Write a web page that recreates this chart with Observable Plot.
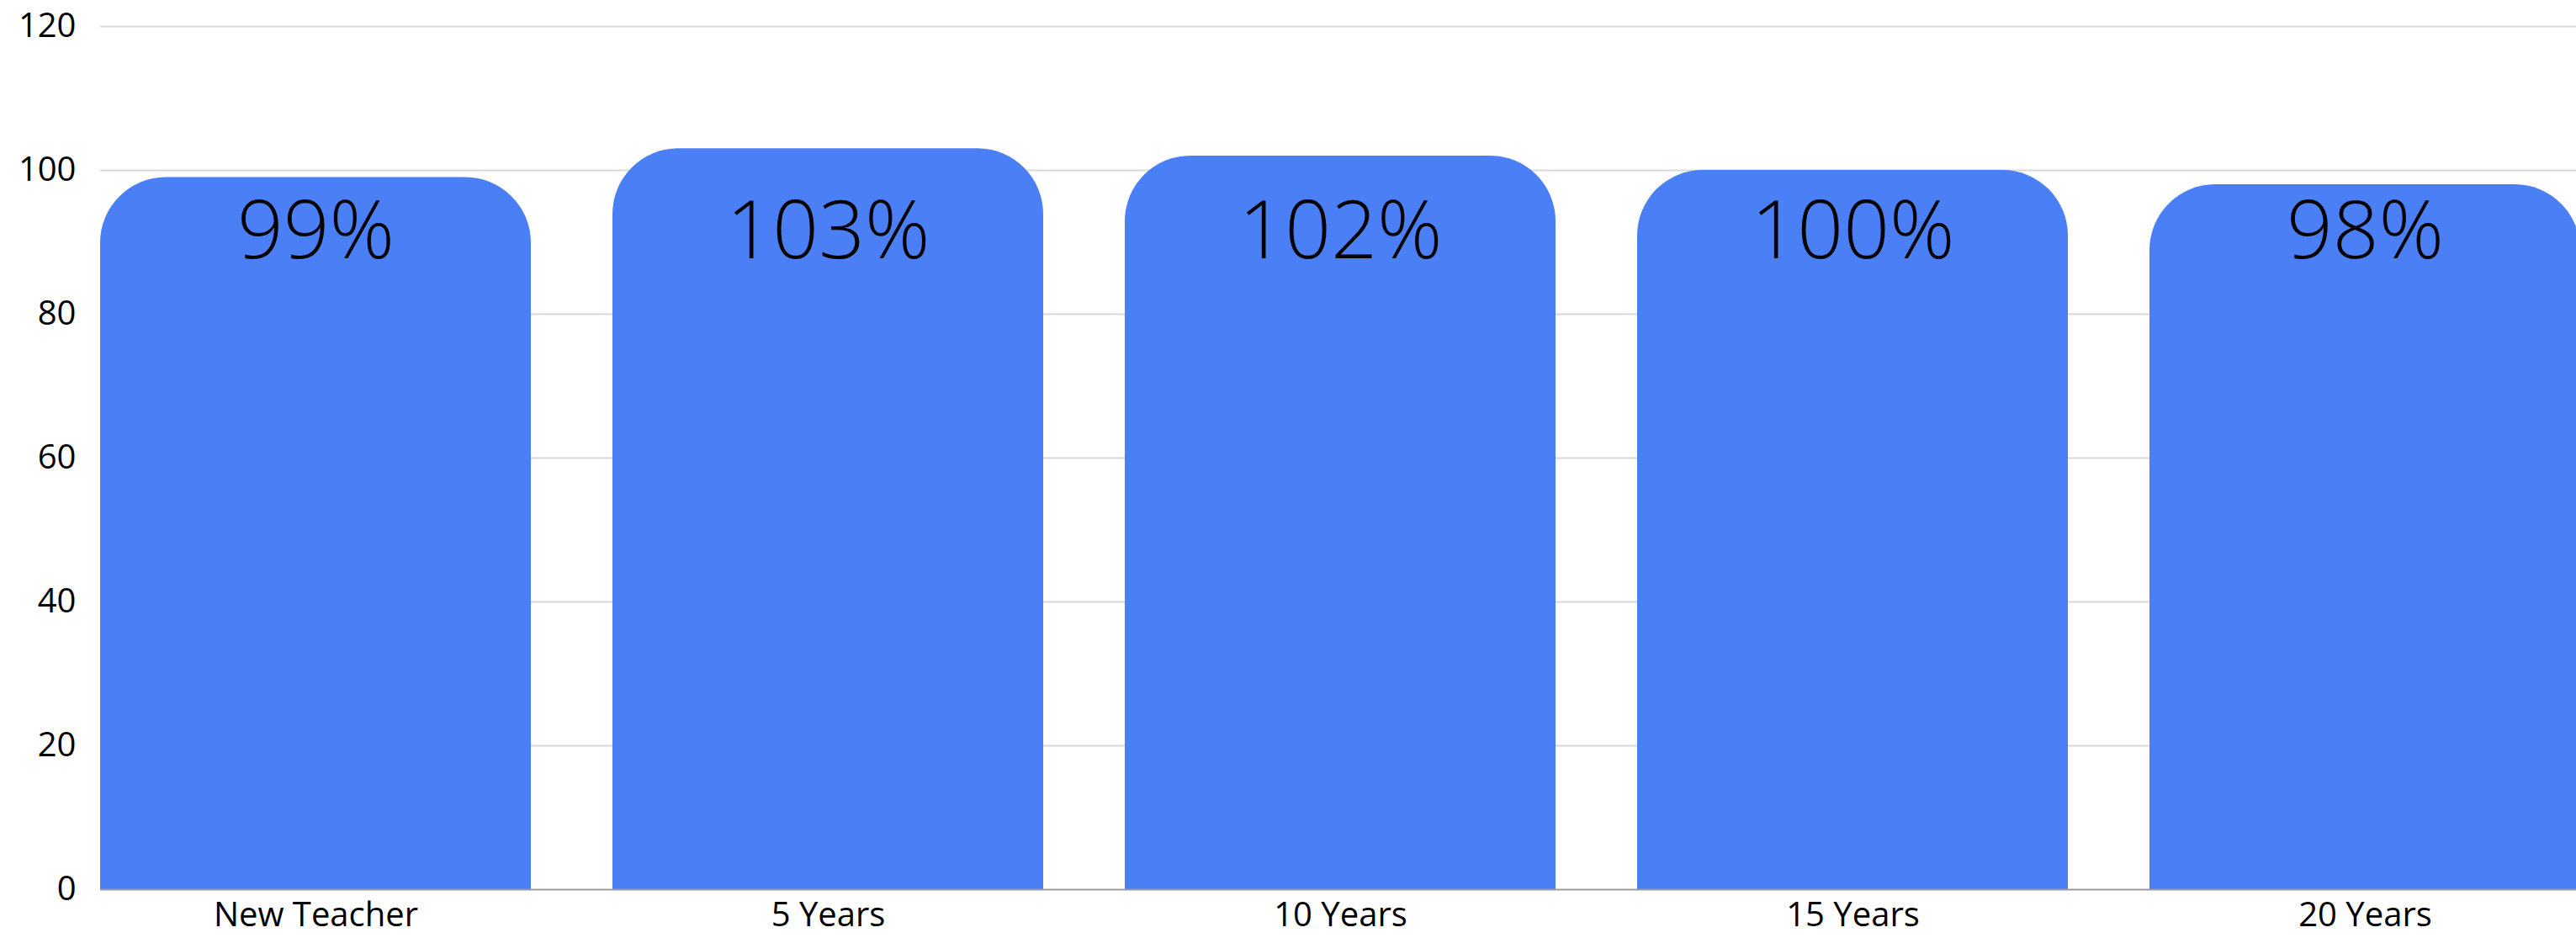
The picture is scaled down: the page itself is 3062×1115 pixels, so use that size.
<!DOCTYPE html>
<html><head><meta charset="utf-8">
<script src="https://cdn.jsdelivr.net/npm/d3@7"></script>
<script src="https://cdn.jsdelivr.net/npm/@observablehq/plot@0.6"></script>
<style>body{margin:0;background:#fff;overflow:hidden;}</style>
</head><body><div id="chart"></div>
<script>
const categories = ["New Teacher", "5 Years", "10 Years", "15 Years", "20 Years"];
const values = [99, 103, 102, 100, 98];
const labels = ["99%", "103%", "102%", "100%", "98%"];
const yTicks = [0, 20, 40, 60, 80, 100, 120];
const data = categories.map((c, i) => ({category: c, value: values[i], label: labels[i]}));

const chart = Plot.plot({
  width: 3062, height: 1115,
  marginLeft: 119, marginRight: 0, marginTop: 31, marginBottom: 58,
  style: {fontFamily: "'Open Sans', sans-serif", fontSize: "40px", color: "#000", background: "#fff", overflow: "hidden"},
  x: {domain: categories, range: [119, 3068], paddingInner: 0.16, paddingOuter: 0, align: 0, label: null, tickSize: 0, tickPadding: 15},
  y: {domain: [0, 120], ticks: yTicks, label: null, tickSize: 0, tickPadding: 29},
  marks: [
    Plot.ruleY(yTicks.filter(t => t > 0), {stroke: "#d9d9d9", strokeWidth: 2}),
    Plot.barY(data, {x: "category", y: "value", fill: "#4a7ff6", rx: 78}),
    Plot.barY(data, {x: "category", y1: 0, y2: d => d.value / 2, fill: "#4a7ff6"}),
    Plot.ruleY([0], {stroke: "#9a9a9a", strokeWidth: 2}),
    Plot.text(data, {x: "category", text: "label", frameAnchor: "top", dy: 207, fontSize: 96, fill: "#000", fontWeight: 300})
  ]
});
document.getElementById("chart").appendChild(chart);
</script>
</body></html>
